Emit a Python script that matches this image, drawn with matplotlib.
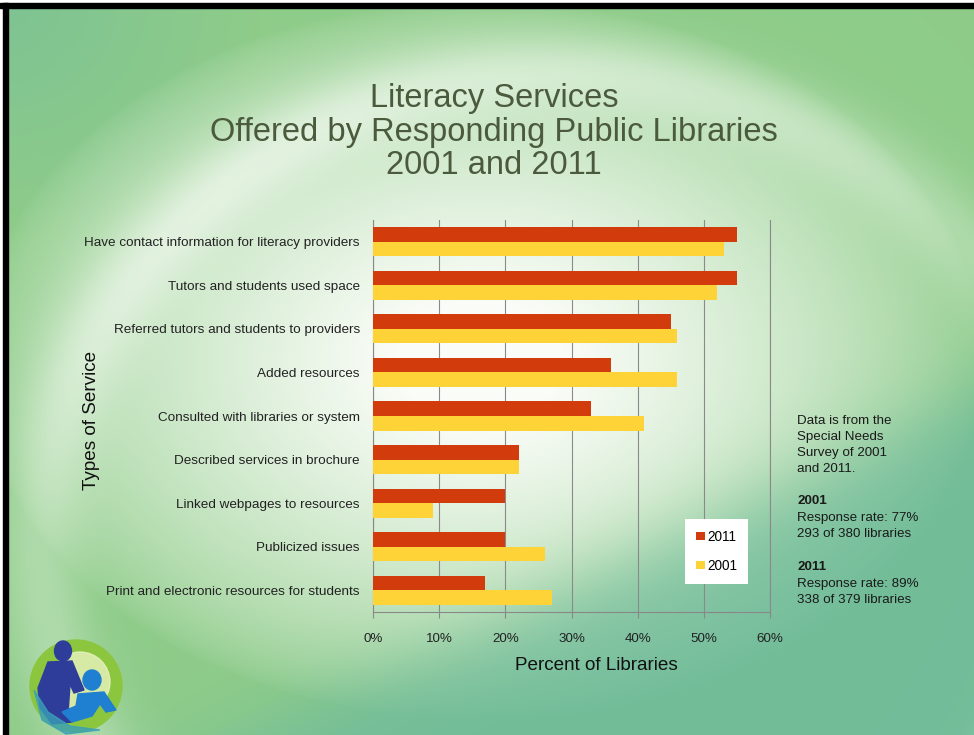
import numpy as np
import matplotlib.pyplot as plt
from matplotlib.patches import Ellipse, Polygon, Circle, Rectangle

# Survey results (percent of libraries)
services = [
    "Have contact information for literacy providers",
    "Tutors and students used space",
    "Referred tutors and students to providers",
    "Added resources",
    "Consulted with libraries or system",
    "Described services in brochure",
    "Linked webpages to resources",
    "Publicized issues",
    "Print and electronic resources for students",
]
pct_2011 = [55, 55, 45, 36, 33, 22, 20, 20, 17]
pct_2001 = [53, 52, 46, 46, 41, 22, 9, 26, 27]
x_ticks = [0, 10, 20, 30, 40, 50, 60]

W, H = 974, 735
FONT = "Liberation Sans"
fig = plt.figure(figsize=(W / 100, H / 100), dpi=100)

# slide background: green field with a soft white swirl
bg = fig.add_axes([0, 0, 1, 1])
bg.set_xlim(0, W)
bg.set_ylim(H, 0)
bg.axis("off")

yy, xx = np.mgrid[0:H, 0:W].astype(float)
green = np.array([0.56, 0.80, 0.54])
teal = np.array([0.45, 0.74, 0.60])
img = np.ones((H, W, 3)) * green
# teal tint towards bottom right and top left
d_br = (xx - 450) * 0.45 + (yy - 735) * 0.95 + 60
t_br = np.clip(1 / (1 + np.exp(-(d_br + 30) / 25)), 0, 1)
t_tl = np.clip(1 - np.hypot(xx / 260, yy / 240), 0, 1) * 0.6
mix = np.clip(t_br + t_tl, 0, 1)[..., None]
img = img * (1 - mix) + teal * mix
# white glow in the middle of the slide
r = np.hypot((xx - 480) / 420, (yy - 360) / 300)
glow = np.clip(1.2 - r, 0, 1) ** 0.7
glow *= 1 - 0.75 * t_br
# lighter arc band sweeping across the upper part
ring = np.exp(-((np.hypot((xx - 560) / 520, (yy - 540) / 470) - 1.0) / 0.08) ** 2) * 0.3
w = np.clip(glow + ring, 0, 1)[..., None]
img = img * (1 - w) + np.array([0.98, 0.99, 0.97]) * w
bg.imshow(img, extent=[0, W, H, 0], aspect="auto", zorder=0)

# slide frame
bg.add_patch(Rectangle((0, 0), W, 2.5, color="white", zorder=5))
bg.add_patch(Rectangle((0, 0), 3, H, color="white", zorder=5))
bg.add_patch(Rectangle((0, 2.5), W, 5, color="black", zorder=6))
bg.add_patch(Rectangle((3, 2.5), 4.5, H, color="black", zorder=6))

# logo
bg.add_patch(Circle((76, 686), 46, color="#8cc63f", zorder=2))
bg.add_patch(Circle((80, 682), 30, color="#e9f3c0", alpha=0.8, zorder=2))
bg.add_patch(Ellipse((63, 651), 17, 20, color="#2e3d99", zorder=3))
bg.add_patch(Polygon([(48, 662), (72, 661), (84, 690), (74, 693), (70, 684),
                      (68, 714), (72, 722), (52, 724), (40, 708), (38, 688)],
                     closed=True, color="#2e3d99", zorder=3))
bg.add_patch(Ellipse((92, 680), 18, 20, color="#1f7fd0", zorder=4))
bg.add_patch(Polygon([(78, 694), (104, 692), (116, 710), (106, 712), (100, 704),
                      (92, 716), (72, 722), (62, 712), (76, 706)],
                     closed=True, color="#1f7fd0", zorder=4))
bg.add_patch(Polygon([(34, 690), (42, 720), (66, 734), (100, 730), (70, 726),
                      (48, 712)], closed=True, color="#3aa0b8", alpha=0.8, zorder=3))

# title
title_color = "#4b5a3c"
for txt, y in [("Literacy Services", 98),
               ("Offered by Responding Public Libraries", 132),
               ("2001 and 2011", 165)]:
    bg.text(494, y, txt, ha="center", va="center", fontsize=23.5,
            color=title_color, family=FONT, zorder=7)

# bar chart
left, right, top, bottom = 373, 770, 220, 612
ax = fig.add_axes([left / W, 1 - bottom / H, (right - left) / W, (bottom - top) / H])
ax.patch.set_alpha(0)
pos = np.arange(len(services))
h = 1 / 3
ax.barh(pos - h / 2, pct_2011, height=h, color="#d23c0c", label="2011", zorder=3)
ax.barh(pos + h / 2, pct_2001, height=h, color="#fdd337", label="2001", zorder=3)
ax.set_ylim(len(services) - 0.5, -0.5)
ax.set_xlim(0, 60)
ax.set_xticks(x_ticks)
ax.set_xticklabels([f"{v}%" for v in x_ticks], fontsize=9.6, family=FONT,
                   color="#222222")
ax.set_yticks(pos)
ax.set_yticklabels(services, fontsize=9.7, family=FONT, color="#222222")
ax.tick_params(axis="y", length=0, pad=9.5)
ax.tick_params(axis="x", length=4, color="#888888", pad=11)
ax.grid(axis="x", color="#8a8a8a", linewidth=0.8, zorder=0)
ax.axvline(60, color="#8a8a8a", linewidth=0.8, clip_on=False, zorder=0)
for side in ["top", "right"]:
    ax.spines[side].set_visible(False)
for side in ["left", "bottom"]:
    ax.spines[side].set_color("#888888")
    ax.spines[side].set_linewidth(0.8)

leg = ax.legend(loc="lower right", bbox_to_anchor=(0.945, 0.072), frameon=True,
                fancybox=False, edgecolor="none", framealpha=1,
                handlelength=0.6, handleheight=0.6, handletextpad=0.2,
                labelspacing=1.1, borderpad=0.8, borderaxespad=0,
                prop={"family": FONT, "size": 9.8})

bg.text(596, 665, "Percent of Libraries", ha="center", va="center", fontsize=13.6,
        family=FONT, color="#111111", zorder=7)
bg.text(92, 420, "Types of Service", ha="center", va="center", fontsize=13.6,
        rotation=90, family=FONT, color="#111111", zorder=7)

# survey notes
notes = [("Data is from the", 421, "normal"), ("Special Needs", 437, "normal"),
         ("Survey of 2001", 453, "normal"), ("and 2011.", 469, "normal"),
         ("2001", 501, "bold"), ("Response rate: 77%", 518, "normal"),
         ("293 of 380 libraries", 534, "normal"),
         ("2011", 567, "bold"), ("Response rate: 89%", 584, "normal"),
         ("338 of 379 libraries", 600, "normal")]
for txt, y, wt in notes:
    bg.text(797, y, txt, ha="left", va="center", fontsize=9.6, fontweight=wt,
            family=FONT, color="#1a1a1a", zorder=7)

fig.savefig("out.png", dpi=100)
